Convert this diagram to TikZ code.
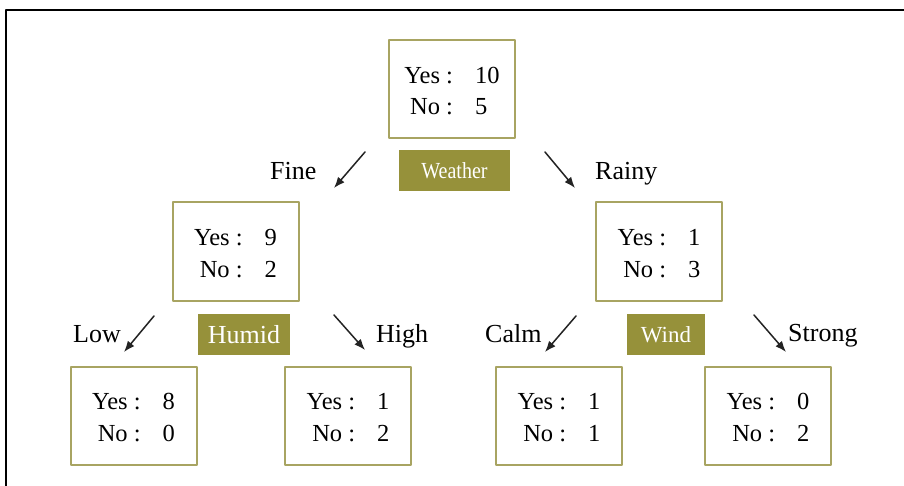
\documentclass[tikz,border=0pt]{standalone}
\usepackage{fontspec}
\setmainfont{Liberation Serif}
\usepackage{graphicx}
\usepackage{xcolor}
\definecolor{olivefill}{RGB}{150,145,58}
\definecolor{oliveline}{RGB}{168,164,98}
\definecolor{arrowgray}{RGB}{35,35,35}
\usetikzlibrary{arrows.meta}

\tikzset{
  countbox/.style={draw=oliveline,line width=2pt,minimum width=126pt,minimum height=98pt,
    inner sep=0pt,font=\fontsize{24.5}{31.5}\selectfont},
  attrbox/.style={fill=olivefill,text=white,minimum height=41pt,inner sep=0pt,
    font=\fontsize{23}{26}\selectfont},
  branchlbl/.style={anchor=base west,inner sep=0pt,font=\fontsize{26}{30}\selectfont},
  split/.style={draw=arrowgray,-{Latex[length=11pt,width=8.5pt]},line width=1.5pt},
}
% extra room on top pushes the two rows a little down inside the box
\newcommand{\yesno}[2]{\raisebox{0pt}[\dimexpr\height+7pt\relax]{\begin{tabular}{@{}r@{\hspace{22pt}}l@{}}Yes :&#1\\No :&#2\end{tabular}}}

\begin{document}
\begin{tikzpicture}[x=1pt,y=-1pt,line cap=round,line join=round]
  \path[use as bounding box] (0,0) rectangle (904,486);

  % frame
  \draw[line width=2.2pt,line cap=butt] (904,10) -- (6,10) -- (6,486);

  % count boxes
  \node[countbox] (root)   at (452,89)    {\yesno{10}{5}};
  \node[countbox] (fine)   at (235.5,251.5) {\yesno{9}{2}};
  \node[countbox] (rainy)  at (659,251.5) {\yesno{1}{3}};
  \node[countbox] (low)    at (133.5,415.5) {\yesno{8}{0}};
  \node[countbox] (high)   at (348,415.5) {\yesno{1}{2}};
  \node[countbox] (calm)   at (559,415.5) {\yesno{1}{1}};
  \node[countbox] (strong) at (768,415.5) {\yesno{0}{2}};

  % split attributes
  \node[attrbox,minimum width=111pt] (weather) at (454.5,170.5) {\scalebox{0.87}[1]{Weather}};
  \node[attrbox,minimum width=92pt,font=\fontsize{26}{30}\selectfont] (humid) at (244,334.5) {Humid};
  \node[attrbox,minimum width=78pt] (wind) at (666,334.5) {Wind};

  % branch values
  \node[branchlbl] (fineLbl)   at (270,180)   {Fine};
  \node[branchlbl] (rainyLbl)  at (595,180)   {Rainy};
  \node[branchlbl] (lowLbl)    at (73,342.5)  {Low};
  \node[branchlbl] (highLbl)   at (376,342)   {High};
  \node[branchlbl] (calmLbl)   at (485,342)   {Calm};
  \node[branchlbl] (strongLbl) at (788,341)   {Strong};

  % arrow ends
  \coordinate (fineFrom)   at (365,152);  \coordinate (fineTo)   at (334,188);
  \coordinate (rainyFrom)  at (545,152);  \coordinate (rainyTo)  at (575,188);
  \coordinate (lowFrom)    at (154,316);  \coordinate (lowTo)    at (124,352);
  \coordinate (highFrom)   at (334,315);  \coordinate (highTo)   at (365,350);
  \coordinate (calmFrom)   at (576,316);  \coordinate (calmTo)   at (545,352);
  \coordinate (strongFrom) at (754,315);  \coordinate (strongTo) at (786,352);

  \draw[split] (fineFrom) -- (fineTo);
  \draw[split] (rainyFrom) -- (rainyTo);
  \draw[split] (lowFrom) -- (lowTo);
  \draw[split] (highFrom) -- (highTo);
  \draw[split] (calmFrom) -- (calmTo);
  \draw[split] (strongFrom) -- (strongTo);
\end{tikzpicture}
\end{document}
